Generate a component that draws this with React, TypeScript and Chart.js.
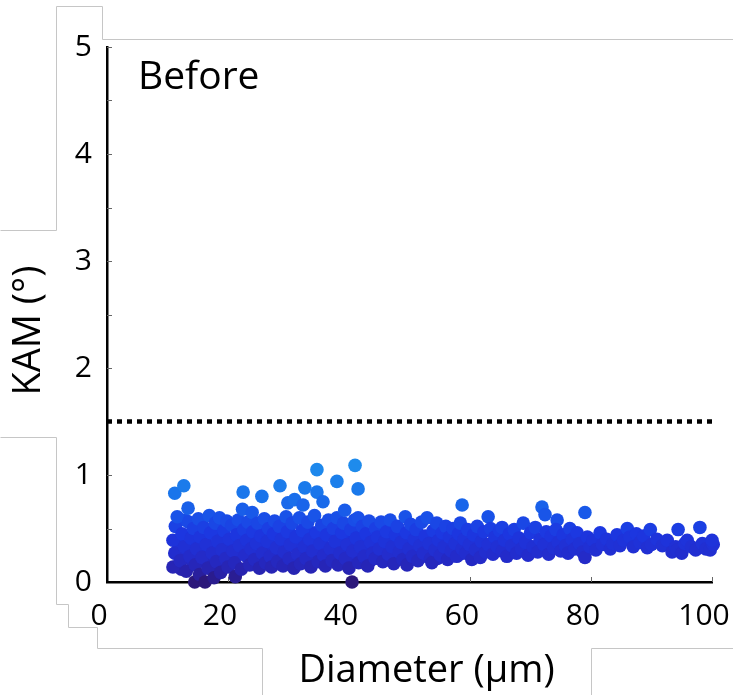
import { useEffect, useRef } from "react";
import { Chart, registerables } from "chart.js";

Chart.register(...registerables);

// ---- Text ----
const panelLabel = "Before";
const xAxisTitle = "Diameter (µm)";
const yAxisTitle = "KAM (°)";

// ---- Axis ranges / ticks ----
const xTickValues = [0, 20, 40, 60, 80, 100];
const yTickValues = [0, 1, 2, 3, 4, 5];
const kamThreshold = 1.5;

// ---- Data: [diameter (µm), KAM (°)] ----
const grains10to20: [number, number][] = [
  [10.9, 0.14], [10.9, 0.39], [11.2, 0.27], [11.3, 0.52], [11.6, 0.61], [11.2, 0.83],
  [12.7, 0.9], [13.4, 0.69], [12.1, 0.2], [12.4, 0.45], [12.8, 0.33], [13.1, 0.1],
  [13.5, 0.56], [13.7, 0.24], [13.9, 0.41], [14.3, 0.5], [14.5, 0.0], [14.6, 0.16],
  [14.8, 0.31], [15.1, 0.59], [15.3, 0.07], [15.4, 0.42], [15.7, 0.23], [16.0, 0.51],
  [16.2, 0.0], [16.4, 0.35], [16.7, 0.13], [16.9, 0.62], [17.1, 0.46], [17.4, 0.27],
  [17.7, 0.04], [17.9, 0.55], [18.1, 0.19], [18.3, 0.38], [18.6, 0.6], [18.8, 0.09],
  [19.0, 0.3], [19.3, 0.48], [19.6, 0.22], [19.8, 0.57], [20.0, 0.14], [20.2, 0.4],
];

const grains20to30: [number, number][] = [
  [20.6, 0.53], [20.8, 0.29], [21.1, 0.18], [21.2, 0.05], [21.4, 0.44], [21.7, 0.58],
  [21.9, 0.34], [22.2, 0.12], [22.5, 0.84], [22.4, 0.68], [22.6, 0.49], [22.8, 0.25],
  [23.1, 0.39], [23.3, 0.56], [23.6, 0.16], [23.8, 0.31], [24.0, 0.65], [24.1, 0.47],
  [24.4, 0.21], [24.7, 0.36], [24.9, 0.55], [25.2, 0.13], [25.4, 0.43], [25.6, 0.8],
  [25.7, 0.27], [26.0, 0.59], [26.2, 0.18], [26.5, 0.38], [26.7, 0.5], [27.0, 0.24],
  [27.2, 0.14], [27.5, 0.45], [27.7, 0.57], [28.0, 0.32], [28.2, 0.19], [28.6, 0.9],
  [28.5, 0.52], [28.8, 0.4], [29.1, 0.15], [29.3, 0.28], [29.6, 0.61], [29.9, 0.74],
  [29.8, 0.47], [30.1, 0.22], [30.3, 0.35],
];

const grains30to45: [number, number][] = [
  [30.6, 0.55], [30.9, 0.13], [31.0, 0.77], [31.2, 0.42], [31.5, 0.26], [31.8, 0.6],
  [32.0, 0.17], [32.4, 0.72], [32.3, 0.48], [32.7, 0.88], [32.6, 0.33], [32.9, 0.22],
  [33.2, 0.56], [33.5, 0.4], [33.7, 0.14], [34.0, 0.29], [34.3, 0.62], [34.7, 1.05],
  [34.7, 0.84], [34.6, 0.46], [34.9, 0.19], [35.2, 0.36], [35.5, 0.53], [35.7, 0.75],
  [35.8, 0.25], [36.1, 0.15], [36.3, 0.44], [36.6, 0.58], [36.9, 0.31], [37.2, 0.2],
  [37.4, 0.5], [37.7, 0.38], [38.0, 0.94], [38.0, 0.6], [38.2, 0.16], [38.5, 0.27],
  [38.8, 0.46], [39.1, 0.55], [39.3, 0.67], [39.4, 0.22], [39.7, 0.35], [40.0, 0.13],
  [40.3, 0.49], [40.5, 0.0], [40.6, 0.29], [40.9, 0.58], [41.0, 1.09], [41.2, 0.41],
  [41.5, 0.87], [41.5, 0.6], [41.6, 0.18], [41.9, 0.33], [42.2, 0.52], [42.5, 0.24],
  [42.8, 0.45], [43.1, 0.15], [43.3, 0.57], [43.6, 0.37], [43.9, 0.27], [44.3, 0.22],
  [44.4, 0.5], [44.7, 0.42], [45.0, 0.31],
];

const grains45to60: [number, number][] = [
  [45.3, 0.56], [45.6, 0.19], [45.9, 0.38], [46.2, 0.47], [46.5, 0.26], [46.8, 0.58],
  [47.1, 0.33], [47.4, 0.17], [47.7, 0.44], [48.0, 0.52], [48.3, 0.28], [48.6, 0.37],
  [48.9, 0.21], [49.3, 0.61], [49.6, 0.16], [49.5, 0.46], [49.9, 0.31], [50.2, 0.54],
  [50.5, 0.24], [50.8, 0.4], [51.1, 0.49], [51.4, 0.2], [51.7, 0.34], [52.0, 0.56],
  [52.3, 0.27], [52.6, 0.43], [52.9, 0.6], [53.2, 0.36], [53.5, 0.22], [53.7, 0.18],
  [53.9, 0.48], [54.2, 0.3], [54.5, 0.55], [54.8, 0.39], [55.1, 0.25], [55.4, 0.46],
  [55.7, 0.33], [56.0, 0.52], [56.3, 0.21], [56.6, 0.42], [56.9, 0.29], [57.2, 0.5],
  [57.5, 0.36], [57.8, 0.24], [58.1, 0.45], [58.4, 0.55], [58.7, 0.72], [58.7, 0.31],
  [59.0, 0.4], [59.3, 0.27], [59.6, 0.49], [59.9, 0.35], [60.3, 0.21],
];

const grains60to80: [number, number][] = [
  [60.6, 0.44], [60.9, 0.3], [61.2, 0.52], [61.7, 0.23], [61.9, 0.38], [62.3, 0.47],
  [62.6, 0.28], [63.0, 0.61], [63.0, 0.35], [63.4, 0.5], [63.8, 0.26], [64.1, 0.42],
  [64.5, 0.33], [64.9, 0.48], [65.3, 0.51], [65.3, 0.29], [65.7, 0.39], [66.1, 0.24],
  [66.5, 0.45], [66.9, 0.34], [67.3, 0.49], [67.7, 0.27], [68.1, 0.41], [68.5, 0.31],
  [68.8, 0.55], [69.2, 0.37], [69.6, 0.25], [70.0, 0.46], [70.4, 0.33], [70.8, 0.51],
  [71.2, 0.28], [71.6, 0.4], [71.9, 0.7], [72.4, 0.63], [72.2, 0.35], [72.6, 0.47],
  [73.0, 0.26], [73.4, 0.43], [73.8, 0.32], [74.4, 0.58], [74.2, 0.49], [74.6, 0.37],
  [75.0, 0.29], [75.4, 0.44], [75.8, 0.34], [76.2, 0.27], [76.5, 0.5], [76.9, 0.4],
  [77.3, 0.31], [77.7, 0.46], [78.1, 0.36], [78.6, 0.28], [79.0, 0.65], [79.0, 0.23],
  [79.4, 0.42], [79.8, 0.33],
];

const grains80to100: [number, number][] = [
  [80.3, 0.39], [80.8, 0.3], [81.5, 0.46], [81.9, 0.35], [82.6, 0.4], [83.2, 0.31],
  [83.6, 0.36], [84.3, 0.44], [84.8, 0.34], [85.4, 0.39], [86.0, 0.5], [86.4, 0.42],
  [87.0, 0.33], [87.5, 0.45], [88.1, 0.37], [88.7, 0.43], [89.3, 0.32], [89.8, 0.49],
  [90.0, 0.35], [90.9, 0.4], [91.8, 0.34], [92.6, 0.39], [93.4, 0.28], [94.0, 0.33],
  [94.4, 0.49], [94.2, 0.3], [95.0, 0.27], [95.5, 0.36], [95.9, 0.39], [96.6, 0.33],
  [97.3, 0.3], [98.0, 0.51], [98.4, 0.36], [99.0, 0.31], [99.7, 0.3], [100.2, 0.35],
  [100.0, 0.39],
];

// denser core of the cloud (many overlapping grains)
const grainsCore10to30: [number, number][] = [
  [11.8, 0.36], [12.3, 0.12], [12.9, 0.58], [13.3, 0.28], [14.0, 0.2], [14.2, 0.38],
  [14.9, 0.47], [15.2, 0.27], [15.6, 0.55], [16.1, 0.19], [16.5, 0.44], [17.0, 0.32],
  [17.5, 0.5], [17.8, 0.14], [18.4, 0.26], [18.9, 0.42], [19.4, 0.16], [19.9, 0.33],
  [20.4, 0.24], [21.0, 0.4], [21.5, 0.26], [22.0, 0.48], [22.7, 0.36], [23.4, 0.22],
  [23.9, 0.42], [24.5, 0.28], [25.0, 0.46], [25.5, 0.34], [26.1, 0.26], [26.8, 0.42],
  [27.3, 0.33], [27.9, 0.48], [28.4, 0.27], [29.0, 0.36], [29.5, 0.2], [30.0, 0.5],
];

const grainsCore30to60: [number, number][] = [
  [30.5, 0.44], [31.1, 0.33], [31.7, 0.19], [32.1, 0.38], [32.8, 0.53], [33.3, 0.27],
  [33.9, 0.46], [34.4, 0.35], [35.0, 0.26], [35.4, 0.44], [36.0, 0.33], [36.5, 0.22],
  [37.0, 0.45], [37.5, 0.28], [38.1, 0.4], [38.6, 0.52], [39.0, 0.3], [39.6, 0.45],
  [40.1, 0.21], [40.7, 0.38], [41.3, 0.26], [41.8, 0.47], [42.4, 0.34], [43.0, 0.41],
  [43.5, 0.2], [44.1, 0.36], [44.8, 0.25], [45.4, 0.42], [46.0, 0.29], [46.6, 0.36],
  [47.3, 0.5], [47.9, 0.24], [48.5, 0.46], [49.1, 0.34], [49.8, 0.41], [50.4, 0.3],
  [51.0, 0.36], [51.6, 0.44], [52.2, 0.38], [52.8, 0.24], [53.4, 0.43], [54.0, 0.37],
  [54.6, 0.22], [55.3, 0.38], [55.9, 0.3], [56.5, 0.48], [57.1, 0.38], [57.7, 0.32],
  [58.3, 0.26], [58.9, 0.48], [59.5, 0.38],
];

// ---- Styling ----
const FONT = "'Open Sans', Lato, sans-serif";
const colorStops: [number, number[]][] = [
  [0.0, [44, 24, 122]],
  [0.1, [40, 34, 172]],
  [0.25, [35, 44, 204]],
  [0.45, [28, 54, 224]],
  [0.6, [25, 80, 232]],
  [0.8, [25, 115, 235]],
  [1.1, [30, 140, 236]],
];

function kamColor(v: number): string {
  if (v <= colorStops[0][0]) return `rgb(${colorStops[0][1].join(",")})`;
  for (let i = 1; i < colorStops.length; i++) {
    const [v1, c1] = colorStops[i];
    const [v0, c0] = colorStops[i - 1];
    if (v <= v1) {
      const t = (v - v0) / (v1 - v0);
      const c = c0.map((a, k) => Math.round(a + (c1[k] - a) * t));
      return `rgb(${c.join(",")})`;
    }
  }
  return `rgb(${colorStops[colorStops.length - 1][1].join(",")})`;
}

// light grey page-frame remnants around the figure
const framePaths: [number, number][][] = [
  [[0, 230], [56, 230], [56, 6], [102, 6], [102, 39], [733, 39]],
  [[0, 437], [56, 437], [56, 604], [68, 604], [68, 627], [97, 627], [97, 648], [262, 648], [262, 695]],
  [[591, 695], [591, 648], [733, 648]],
];

const decorPlugin = {
  id: "decor",
  beforeDraw(chart: any) {
    const ctx = chart.ctx;
    ctx.save();
    ctx.fillStyle = "#ffffff";
    ctx.fillRect(0, 0, chart.width, chart.height);
    ctx.strokeStyle = "rgb(198,198,198)";
    ctx.lineWidth = 1;
    for (const path of framePaths) {
      ctx.beginPath();
      path.forEach(([px, py], i) => {
        if (i === 0) ctx.moveTo(px + 0.5, py + 0.5);
        else ctx.lineTo(px + 0.5, py + 0.5);
      });
      ctx.stroke();
    }
    ctx.restore();
  },
  beforeDatasetsDraw(chart: any) {
    const { ctx, chartArea, scales } = chart;
    const xs = scales.x;
    const ys = scales.y;
    ctx.save();
    // inward tick marks
    ctx.strokeStyle = "#666";
    ctx.lineWidth = 1;
    ys.ticks.forEach((t: any) => {
      if (t.value === 0) return;
      const py = Math.round(ys.getPixelForValue(t.value)) + 0.5;
      ctx.beginPath();
      ctx.moveTo(chartArea.left, py);
      ctx.lineTo(chartArea.left + 5, py);
      ctx.stroke();
    });
    xTickValues.forEach((v) => {
      if (v === 0) return;
      const px = Math.round(xs.getPixelForValue(v)) + 0.5;
      ctx.beginPath();
      ctx.moveTo(px, chartArea.bottom);
      ctx.lineTo(px, chartArea.bottom - 5);
      ctx.stroke();
    });
    // texts
    ctx.fillStyle = "#000";
    ctx.textBaseline = "alphabetic";
    ctx.font = `39px ${FONT}`;
    ctx.textAlign = "left";
    ctx.fillText(panelLabel, chartArea.left + 31, chartArea.top + 42);

    ctx.font = `38px ${FONT}`;
    ctx.textAlign = "center";
    ctx.fillText(xAxisTitle, (chartArea.left + chartArea.right) / 2 + 17, chartArea.bottom + 100);

    ctx.translate(40, (chartArea.top + chartArea.bottom) / 2 + 16);
    ctx.rotate(-Math.PI / 2);
    ctx.fillText(yAxisTitle, 0, 0);
    ctx.restore();
  },
};

export default function App() {
  const canvasRef = useRef<HTMLCanvasElement | null>(null);

  useEffect(() => {
    if (!canvasRef.current) return;
    const allGrains = [
      ...grainsCore10to30,
      ...grainsCore30to60,
      ...grains10to20,
      ...grains20to30,
      ...grains30to45,
      ...grains45to60,
      ...grains60to80,
      ...grains80to100,
    ].map(([d, k]) => ({ x: d, y: k }));

    const chart = new Chart(canvasRef.current, {
      type: "scatter",
      data: {
        datasets: [
          {
            type: "line",
            label: "threshold",
            data: [
              { x: xTickValues[0], y: kamThreshold },
              { x: xTickValues[xTickValues.length - 1], y: kamThreshold },
            ],
            borderColor: "#000",
            borderWidth: 4.5,
            borderDash: [5, 5],
            borderCapStyle: "butt",
            pointRadius: 0,
            fill: false,
            clip: false,
          } as any,
          {
            label: "grains",
            data: allGrains,
            pointRadius: 6.8,
            pointHoverRadius: 6.8,
            borderWidth: 0,
            backgroundColor: (c: any) => kamColor(c.raw ? c.raw.y : 0.4),
            clip: false,
          } as any,
        ],
      },
      options: {
        animation: false,
        responsive: false,
        events: [],
        layout: { padding: { top: 47, right: 21, left: 0, bottom: 0 } },
        plugins: { legend: { display: false }, tooltip: { enabled: false } },
        scales: {
          x: {
            type: "linear",
            min: xTickValues[0],
            max: xTickValues[xTickValues.length - 1],
            afterBuildTicks: (s: any) => {
              s.ticks = xTickValues.map((v) => ({ value: v }));
            },
            afterFit: (s: any) => {
              s.height = 113;
              s.paddingLeft = 0;
              s.paddingRight = 0;
            },
            ticks: {
              color: "#000",
              font: { family: FONT, size: 30 },
              padding: 16,
              labelOffset: -8,
              maxRotation: 0,
              autoSkip: false,
            },
            grid: { display: true, drawOnChartArea: false, drawTicks: false },
            border: { display: true, color: "#000", width: 2.5 },
          },
          y: {
            type: "linear",
            min: yTickValues[0],
            max: yTickValues[yTickValues.length - 1],
            ticks: {
              stepSize: 0.5,
              autoSkip: false,
              color: "#000",
              font: { family: FONT, size: 30 },
              padding: 15,
              callback: (v: any) => (yTickValues.includes(Number(v)) ? String(v) : ""),
            },
            afterFit: (s: any) => {
              s.width = 107;
              s.paddingTop = 0;
              s.paddingBottom = 0;
            },
            grid: { display: true, drawOnChartArea: false, drawTicks: false },
            border: { display: true, color: "#000", width: 2.5 },
          },
        },
      },
      plugins: [decorPlugin],
    });
    return () => chart.destroy();
  }, []);

  return (
    <div style={{ position: "absolute", left: 0, top: 0, width: 733, height: 695 }}>
      <canvas ref={canvasRef} width={733} height={695} style={{ display: "block" }} />
    </div>
  );
}
